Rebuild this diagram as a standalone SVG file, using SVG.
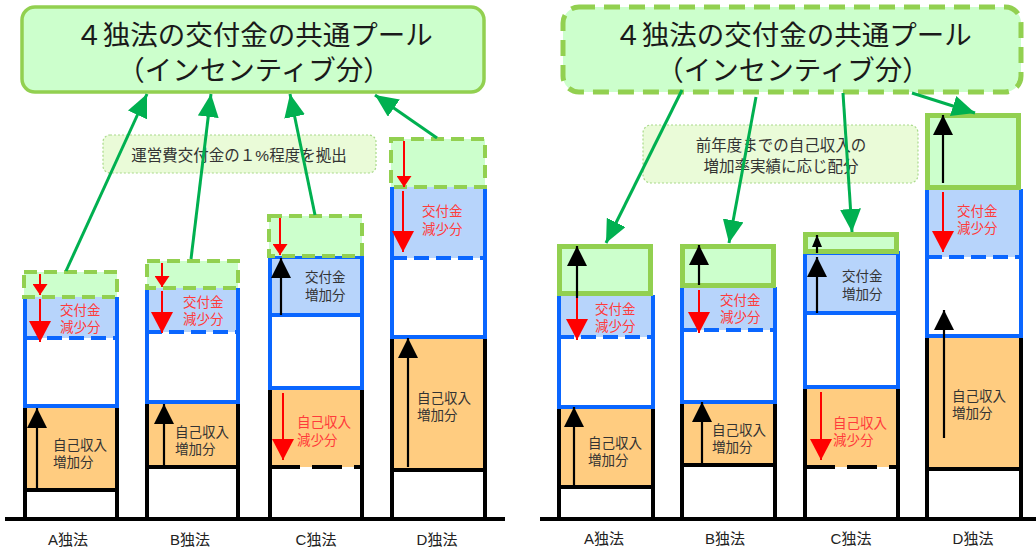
<svg xmlns="http://www.w3.org/2000/svg" width="1036" height="548" viewBox="0 0 1036 548">
<style>
text{font-family:"Liberation Sans","Noto Sans CJK JP","Noto Sans CJK SC",sans-serif}
.ttl{font-size:27.5px;fill:#1a1a1a;text-anchor:middle}
.note{font-size:15.5px;fill:#333;text-anchor:middle}
.t{font-size:13.5px;fill:#333}
.r{fill:#ff3b3b}
.cap{font-size:15px;fill:#222;text-anchor:middle}
.or{fill:#ffcc80}
.wh{fill:#fff}
.lb{fill:#b7d4fb}
.blk{stroke:#000;stroke-width:4;fill:none}
.blkd{stroke:#000;stroke-width:4;fill:none;stroke-dasharray:30 12}
.bl{stroke:#0a66ff;stroke-width:4;fill:none}
.bld{stroke:#0a66ff;stroke-width:4;fill:none;stroke-dasharray:15 7}
.gd{fill:#ccffcc;stroke:#92d050;stroke-width:4;stroke-dasharray:13 7}
.gs{fill:#ccffcc;stroke:#92d050;stroke-width:5}
.ak{stroke:#000;stroke-width:2.2;fill:none}
.ar{stroke:#ff0000;stroke-width:2;fill:none}
.cn{stroke:#00b050;stroke-width:3;fill:none;marker-end:url(#hg)}
.base{stroke:#000;stroke-width:4}
.notebox{fill:#eafbd8;stroke:#a9d98a;stroke-width:1.2;stroke-dasharray:2 2}
</style>
<defs>
<marker id="kb" markerUnits="userSpaceOnUse" viewBox="0 0 20 20" markerWidth="20" markerHeight="20" refX="20" refY="10" orient="auto"><path d="M0,0L20,10L0,20z" fill="#000"/></marker>
<marker id="ks" markerUnits="userSpaceOnUse" viewBox="0 0 12 10" markerWidth="12" markerHeight="10" refX="12" refY="5" orient="auto"><path d="M0,0L12,5L0,10z" fill="#000"/></marker>
<marker id="rb" markerUnits="userSpaceOnUse" viewBox="0 0 21 22" markerWidth="21" markerHeight="22" refX="21" refY="11" orient="auto"><path d="M0,0L21,11L0,22z" fill="#ff0000"/></marker>
<marker id="rs" markerUnits="userSpaceOnUse" viewBox="0 0 11 15" markerWidth="11" markerHeight="15" refX="11" refY="7.5" orient="auto"><path d="M0,0L11,7.5L0,15z" fill="#ff0000"/></marker>
<marker id="hg" markerUnits="userSpaceOnUse" viewBox="0 0 23 21" markerWidth="23" markerHeight="21" refX="23" refY="10.5" orient="auto"><path d="M0,0L23,10.5L0,21z" fill="#00b050"/></marker>
</defs>

<!-- LEFT PANEL -->
<g id="pool-left">
<rect x="22" y="7" width="462" height="85" rx="13" fill="#ccffcc" stroke="#92d050" stroke-width="3.5"/>
<text class="ttl" x="254" y="45">４独法の交付金の共通プール<tspan x="254" dy="35">（インセンティブ分）</tspan></text>
</g>
<g id="note-left">
<rect class="notebox" x="103" y="135" width="273" height="38" rx="7"/>
<text class="note" x="239" y="161">運営費交付金の１%程度を拠出</text>
</g>
<line id="base-left" class="base" x1="5" y1="519" x2="505" y2="519"/>

<g id="left-A">
<rect class="or" x="25" y="408" width="92" height="82"/>
<path class="blk" d="M25,519V408M117,519V408M25,490H117"/>
<rect class="wh" x="25" y="297" width="92" height="109"/>
<rect class="lb" x="25" y="297" width="92" height="41"/>
<path class="bl" d="M25,297V406H117V297"/>
<line class="bld" x1="25" y1="338" x2="117" y2="338"/>
<rect class="gd" x="24" y="272" width="93" height="25"/>
<line class="ar" x1="40" y1="274" x2="40" y2="295" marker-end="url(#rs)"/>
<line class="ar" x1="40" y1="299" x2="40" y2="342" marker-end="url(#rb)"/>
<line class="ak" x1="37" y1="489" x2="37" y2="408" marker-end="url(#kb)"/>
<text class="t r" x="60" y="315">交付金<tspan x="60" dy="17">減少分</tspan></text>
<text class="t" x="53" y="450">自己収入<tspan x="53" dy="17">増加分</tspan></text>
<text class="cap" x="68" y="545">A独法</text>
</g>

<g id="left-B">
<rect class="or" x="147" y="404" width="91" height="63"/>
<path class="blk" d="M147,519V404M238,519V404M147,467H238"/>
<rect class="wh" x="147" y="288" width="91" height="114"/>
<rect class="lb" x="147" y="288" width="91" height="44"/>
<path class="bl" d="M147,288V402H238V288"/>
<line class="bld" x1="147" y1="332" x2="238" y2="332"/>
<rect class="gd" x="147" y="261" width="91" height="27"/>
<line class="ar" x1="162" y1="263" x2="162" y2="287" marker-end="url(#rs)"/>
<line class="ar" x1="162" y1="291" x2="162" y2="333" marker-end="url(#rb)"/>
<line class="ak" x1="164" y1="466" x2="164" y2="404" marker-end="url(#kb)"/>
<text class="t r" x="183" y="307">交付金<tspan x="183" dy="17">減少分</tspan></text>
<text class="t" x="175" y="437">自己収入<tspan x="175" dy="17">増加分</tspan></text>
<text class="cap" x="190" y="545">B独法</text>
</g>

<g id="left-C">
<rect class="or" x="270" y="390" width="92" height="77"/>
<path class="blk" d="M270,519V390M362,519V390"/>
<line class="blkd" x1="270" y1="467" x2="362" y2="467"/>
<rect class="lb" x="270" y="257" width="92" height="58"/>
<rect class="wh" x="270" y="315" width="92" height="73"/>
<rect class="bl" x="270" y="257" width="92" height="131"/>
<line class="bl" x1="270" y1="315" x2="362" y2="315"/>
<rect class="gd" x="269" y="216" width="93" height="40"/>
<line class="ar" x1="280" y1="218" x2="280" y2="255" marker-end="url(#rs)"/>
<line class="ak" x1="281" y1="315" x2="281" y2="258" marker-end="url(#kb)"/>
<line class="ar" x1="283" y1="393" x2="283" y2="460" marker-end="url(#rb)"/>
<text class="t" x="305" y="282">交付金<tspan x="305" dy="18">増加分</tspan></text>
<text class="t r" x="297" y="427">自己収入<tspan x="297" dy="18">減少分</tspan></text>
<text class="cap" x="316" y="545">C独法</text>
</g>

<g id="left-D">
<rect class="or" x="392" y="339" width="93" height="131"/>
<path class="blk" d="M392,519V339M485,519V339M392,470H485"/>
<rect class="wh" x="392" y="187" width="93" height="150"/>
<rect class="lb" x="392" y="187" width="93" height="71"/>
<path class="bl" d="M392,187V337H485V187"/>
<line class="bld" x1="392" y1="258" x2="485" y2="258"/>
<rect class="gd" x="391" y="139" width="94" height="48"/>
<line class="ar" x1="404" y1="141" x2="404" y2="187" marker-end="url(#rs)"/>
<line class="ar" x1="403" y1="191" x2="403" y2="252" marker-end="url(#rb)"/>
<line class="ak" x1="408" y1="467" x2="408" y2="338" marker-end="url(#kb)"/>
<text class="t r" x="422" y="216">交付金<tspan x="422" dy="18">減少分</tspan></text>
<text class="t" x="417" y="403">自己収入<tspan x="417" dy="17">増加分</tspan></text>
<text class="cap" x="437" y="545">D独法</text>
</g>

<!-- RIGHT PANEL -->
<g id="pool-right">
<rect x="563" y="7" width="458" height="85" rx="16" fill="#ccffcc" stroke="#92d050" stroke-width="5" stroke-dasharray="16 9"/>
<text class="ttl" x="793" y="45">４独法の交付金の共通プール<tspan x="793" dy="35">（インセンティブ分）</tspan></text>
</g>
<g id="note-right">
<rect class="notebox" x="643" y="125" width="275" height="58" rx="8"/>
<text class="note" x="781" y="151">前年度までの自己収入の<tspan x="781" dy="21">増加率実績に応じ配分</tspan></text>
</g>
<line id="base-right" class="base" x1="540" y1="519" x2="1036" y2="519"/>

<g id="right-A">
<rect class="or" x="559" y="409" width="94" height="78"/>
<path class="blk" d="M559,519V409M653,519V409M559,487H653"/>
<rect class="wh" x="559" y="295" width="94" height="112"/>
<rect class="lb" x="559" y="295" width="94" height="42"/>
<path class="bl" d="M559,295V407H653V295"/>
<line class="bld" x1="559" y1="337" x2="653" y2="337"/>
<rect class="gs" x="559.5" y="246.5" width="91" height="47"/>
<line class="ak" x1="577" y1="298" x2="577" y2="246" marker-end="url(#kb)"/>
<line class="ar" x1="577" y1="298" x2="577" y2="340" marker-end="url(#rb)"/>
<line class="ak" x1="574" y1="486" x2="574" y2="407" marker-end="url(#kb)"/>
<text class="t r" x="595" y="314">交付金<tspan x="595" dy="17">減少分</tspan></text>
<text class="t" x="588" y="448">自己収入<tspan x="588" dy="17">増加分</tspan></text>
<text class="cap" x="604" y="544">A独法</text>
</g>

<g id="right-B">
<rect class="or" x="682" y="404" width="93" height="61"/>
<path class="blk" d="M682,519V404M775,519V404M682,465H775"/>
<rect class="wh" x="682" y="287" width="93" height="115"/>
<rect class="lb" x="682" y="287" width="93" height="43"/>
<path class="bl" d="M682,287V402H775V287"/>
<line class="bld" x1="682" y1="330" x2="775" y2="330"/>
<rect class="gs" x="682.5" y="246.5" width="91" height="39"/>
<line class="ak" x1="699" y1="285" x2="699" y2="245" marker-end="url(#kb)"/>
<line class="ar" x1="699" y1="290" x2="699" y2="333" marker-end="url(#rb)"/>
<line class="ak" x1="702" y1="464" x2="702" y2="402" marker-end="url(#kb)"/>
<text class="t r" x="720" y="305">交付金<tspan x="720" dy="17">減少分</tspan></text>
<text class="t" x="712" y="435">自己収入<tspan x="712" dy="17">増加分</tspan></text>
<text class="cap" x="725" y="544">B独法</text>
</g>

<g id="right-C">
<rect class="or" x="805" y="389" width="93" height="78"/>
<path class="blk" d="M805,519V389M898,519V389"/>
<line class="blkd" x1="805" y1="467" x2="898" y2="467"/>
<rect class="lb" x="805" y="253" width="93" height="60"/>
<rect class="wh" x="805" y="313" width="93" height="74"/>
<rect class="bl" x="805" y="253" width="93" height="134"/>
<line class="bl" x1="805" y1="313" x2="898" y2="313"/>
<rect class="gs" x="805.5" y="234.5" width="91" height="17"/>
<line class="ak" x1="817" y1="253" x2="817" y2="235" marker-end="url(#ks)"/>
<line class="ak" x1="817" y1="313" x2="817" y2="257" marker-end="url(#kb)"/>
<line class="ar" x1="821" y1="392" x2="821" y2="460" marker-end="url(#rb)"/>
<text class="t" x="842" y="281">交付金<tspan x="842" dy="18">増加分</tspan></text>
<text class="t r" x="833" y="428">自己収入<tspan x="833" dy="17">減少分</tspan></text>
<text class="cap" x="851" y="544">C独法</text>
</g>

<g id="right-D">
<rect class="or" x="927" y="338" width="94" height="131"/>
<path class="blk" d="M927,519V338M1021,519V338M927,469H1021"/>
<rect class="wh" x="927" y="189" width="94" height="147"/>
<rect class="lb" x="927" y="189" width="94" height="68"/>
<path class="bl" d="M927,189V336H1021V189"/>
<line class="bld" x1="927" y1="257" x2="1021" y2="257"/>
<rect class="gs" x="927.5" y="115.5" width="91" height="72"/>
<line class="ak" x1="943" y1="183" x2="943" y2="115" marker-end="url(#kb)"/>
<line class="ar" x1="943" y1="192" x2="943" y2="252" marker-end="url(#rb)"/>
<line class="ak" x1="944" y1="438" x2="944" y2="310" marker-end="url(#kb)"/>
<text class="t r" x="957" y="216">交付金<tspan x="957" dy="17">減少分</tspan></text>
<text class="t" x="952" y="401">自己収入<tspan x="952" dy="17">増加分</tspan></text>
<text class="cap" x="973" y="544">D独法</text>
</g>

<g id="connectors">
<line class="cn" x1="66" y1="271" x2="147" y2="94"/>
<line class="cn" x1="191" y1="259" x2="211" y2="94"/>
<line class="cn" x1="315" y1="215" x2="290" y2="94"/>
<line class="cn" x1="437" y1="138" x2="375" y2="95"/>
<line class="cn" x1="682" y1="90" x2="606" y2="243"/>
<line class="cn" x1="756" y1="97" x2="729" y2="243"/>
<line class="cn" x1="843" y1="93" x2="852" y2="232"/>
<line class="cn" x1="912" y1="93" x2="975" y2="113"/>
</g>
</svg>
